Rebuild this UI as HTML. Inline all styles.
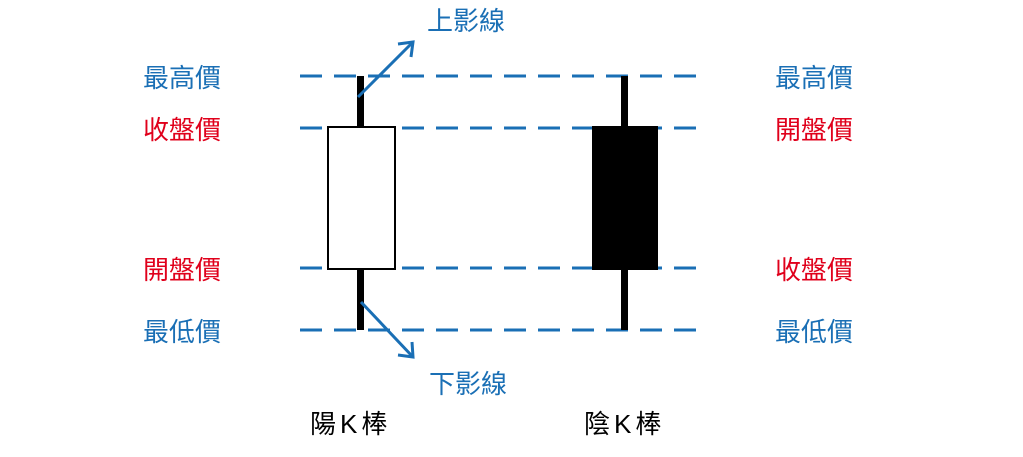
<!DOCTYPE html>
<html><head><meta charset="utf-8"><style>
body{margin:0;background:#fff;width:1023px;height:452px;overflow:hidden}
text{font-family:"Liberation Sans","Noto Sans CJK TC",sans-serif;font-size:26px}
</style></head><body>
<svg width="1023" height="452" xmlns="http://www.w3.org/2000/svg">
<g stroke="#1a6fb5" stroke-width="3" stroke-dasharray="22 12">
<line x1="300" y1="76" x2="697" y2="76"/>
<line x1="300" y1="128" x2="697" y2="128"/>
<line x1="300" y1="268" x2="697" y2="268"/>
<line x1="300" y1="330" x2="697" y2="330"/>
</g>
<rect x="357" y="76" width="7" height="254" fill="#000"/>
<rect x="328" y="127" width="67" height="142" fill="#fff" stroke="#000" stroke-width="2"/>
<rect x="621" y="76" width="7" height="254" fill="#000"/>
<rect x="592" y="126" width="66" height="144" fill="#000"/>
<g stroke="#1a6fb5" stroke-width="3" fill="none">
<line x1="358" y1="97" x2="412" y2="43"/>
<path d="M398,44 L413,42 L411,57"/>
<line x1="361" y1="302" x2="412" y2="356"/>
<path d="M398,355 L413,357 L412,342"/>
</g>
<g text-anchor="middle">
<text x="182" y="87" fill="#1a6fb5">最高價</text>
<text x="182" y="139" fill="#e0001b">收盤價</text>
<text x="182" y="279" fill="#e0001b">開盤價</text>
<text x="182" y="341" fill="#1a6fb5">最低價</text>
<text x="814" y="87" fill="#1a6fb5">最高價</text>
<text x="814" y="139" fill="#e0001b">開盤價</text>
<text x="814" y="279" fill="#e0001b">收盤價</text>
<text x="814" y="341" fill="#1a6fb5">最低價</text>
<text x="466" y="30" fill="#1a6fb5">上影線</text>
<text x="468" y="393" fill="#1a6fb5">下影線</text>
</g>
<text x="310" y="433" fill="#000" letter-spacing="4">陽K棒</text>
<text x="584" y="433" fill="#000" letter-spacing="4">陰K棒</text>
</svg>
</body></html>
